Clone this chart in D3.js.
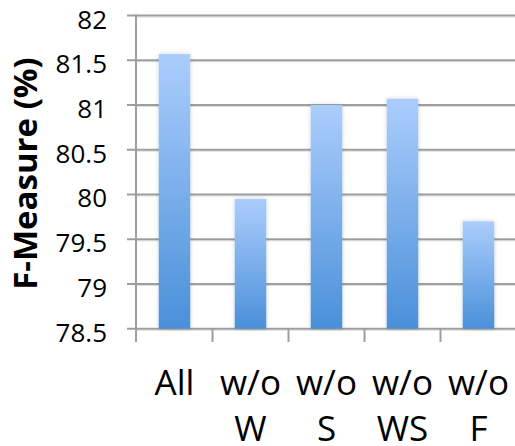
<!DOCTYPE html>
<html>
<head>
<meta charset="utf-8">
<script src="https://cdn.jsdelivr.net/npm/d3@7"></script>
<style>
  html, body { margin: 0; padding: 0; background: #fff; }
  svg { display: block; }
</style>
</head>
<body>
<svg id="chart" width="515" height="446"></svg>
<script>
const categories = [["All"], ["w/o", "W"], ["w/o", "S"], ["w/o", "WS"], ["w/o", "F"]];
const values = [81.57, 79.95, 81.0, 81.07, 79.70];
const yTicks = [78.5, 79, 79.5, 80, 80.5, 81, 81.5, 82];
const yTickLabels = ["78.5", "79", "79.5", "80", "80.5", "81", "81.5", "82"];
const yTitle = "F-Measure (%)";

const svg = d3.select("#chart");
const keys = categories.map(c => c.join(" "));

const x = d3.scaleBand().domain(keys).range([136.5, 516.5]).paddingInner(0.585).paddingOuter(0.2925);
const y = d3.scaleLinear().domain([78.5, 82]).range([328.7, 15.5]);

const defs = svg.append("defs");
const grad = defs.append("linearGradient").attr("id", "barGrad").attr("x1", 0).attr("y1", 0).attr("x2", 0).attr("y2", 1);
grad.append("stop").attr("offset", "0%").attr("stop-color", "#abcdfc");
grad.append("stop").attr("offset", "100%").attr("stop-color", "#4a90d9");
const filt = defs.append("filter").attr("id", "shadow").attr("x", "-30%").attr("y", "-10%").attr("width", "160%").attr("height", "120%");
filt.append("feDropShadow").attr("dx", 0).attr("dy", 0).attr("stdDeviation", 2).attr("flood-color", "#000").attr("flood-opacity", 0.18);

// gridlines
const grid = svg.append("g");
grid.selectAll("line.sh").data(yTicks).join("line")
  .attr("class", "sh")
  .attr("x1", 136).attr("x2", 515)
  .attr("y1", d => y(d) + 1.5).attr("y2", d => y(d) + 1.5)
  .attr("stroke", "#dedede").attr("stroke-width", 1);
grid.selectAll("line.gl").data(yTicks).join("line")
  .attr("class", "gl")
  .attr("x1", 127).attr("x2", 515)
  .attr("y1", d => y(d)).attr("y2", d => y(d))
  .attr("stroke", "#9e9e9e").attr("stroke-width", 2);

// y axis line
svg.append("line").attr("x1", 136).attr("x2", 136).attr("y1", y(82) - 1).attr("y2", 342)
  .attr("stroke", "#9e9e9e").attr("stroke-width", 2);

// x ticks at category boundaries
const bounds = keys.slice(1).map(k => x(k) - x.step() * x.paddingInner() / 2);
svg.selectAll("line.xt").data(bounds).join("line")
  .attr("class", "xt")
  .attr("x1", d => d).attr("x2", d => d)
  .attr("y1", y(78.5)).attr("y2", 342)
  .attr("stroke", "#9e9e9e").attr("stroke-width", 2);

// bars
svg.append("g").selectAll("rect").data(values).join("rect")
  .attr("x", (d, i) => x(keys[i]))
  .attr("width", x.bandwidth())
  .attr("y", d => y(d))
  .attr("height", d => y(78.5) - y(d))
  .attr("fill", "url(#barGrad)")
  .attr("filter", "url(#shadow)");

// y tick labels
svg.append("g").selectAll("text").data(yTicks).join("text")
  .attr("x", 107).attr("y", d => y(d)).attr("dy", 13)
  .attr("text-anchor", "end")
  .attr("font-family", "Open Sans, sans-serif").attr("font-size", 26)
  .attr("fill", "#000")
  .text((d, i) => yTickLabels[i]);

// x labels
const xl = svg.append("g").selectAll("text").data(categories).join("text")
  .attr("x", (d, i) => x(keys[i]) + x.bandwidth() / 2)
  .attr("y", 395)
  .attr("text-anchor", "middle")
  .attr("font-family", "Open Sans, sans-serif").attr("font-size", 35)
  .attr("fill", "#000");
xl.each(function(d, i) {
  const t = d3.select(this);
  d.forEach((line, j) => {
    t.append("tspan").attr("x", x(keys[i]) + x.bandwidth() / 2).attr("dy", j === 0 ? 0 : 46).text(line);
  });
});

// y title
svg.append("text")
  .attr("transform", "translate(37,173.5) rotate(-90)")
  .attr("text-anchor", "middle")
  .attr("font-family", "Open Sans, sans-serif").attr("font-weight", "bold").attr("font-size", 33)
  .attr("fill", "#000")
  .text(yTitle);
</script>
</body>
</html>
